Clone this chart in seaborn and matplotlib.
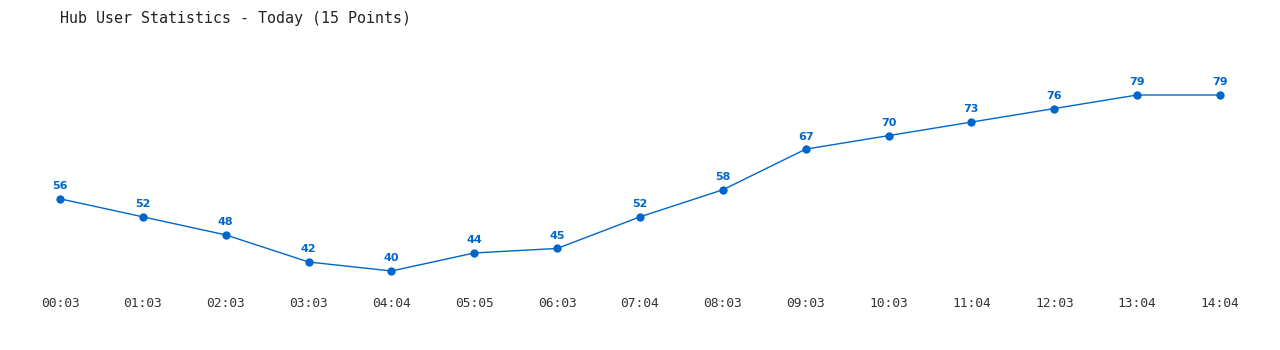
import matplotlib
matplotlib.use("Agg")
import matplotlib.pyplot as plt
import seaborn as sns
import pandas as pd

times = ["00:03", "01:03", "02:03", "03:03", "04:04", "05:05", "06:03", "07:04",
         "08:03", "09:03", "10:03", "11:04", "12:03", "13:04", "14:04"]
users = [56, 52, 48, 42, 40, 44, 45, 52, 58, 67, 70, 73, 76, 79, 79]

sns.set_theme(style="white")
plt.rcParams['font.family'] = ['DejaVu Sans Mono', 'DejaVu Sans']

df = pd.DataFrame({"idx": range(len(times)), "users": users})
color = "#0066cc"

fig = plt.figure(figsize=(12.8, 3.5), dpi=100)
ax = fig.add_axes([60/1280, (350-271)/350, 1160/1280, (271-95)/350])
sns.lineplot(data=df, x="idx", y="users", ax=ax, color=color, linewidth=1,
             marker="o", markersize=6, markeredgewidth=0, clip_on=False)
for i, v in enumerate(users):
    ax.annotate(str(v), (i, v), xytext=(0, 5.5), textcoords="offset points",
                ha="center", va="bottom", color=color, fontsize=8,
                fontweight="bold", family="DejaVu Sans")
ax.set_xlim(0, len(times) - 1)
ax.set_ylim(40, 79)
ax.set_xticks(range(len(times)))
ax.set_xticklabels(times)
ax.set_yticks([])
ax.tick_params(axis="x", length=0, pad=19, labelsize=9.3, labelcolor="#333333")
ax.set_xlabel("")
ax.set_ylabel("")
for s in ax.spines.values():
    s.set_visible(False)
ax.patch.set_alpha(0)
fig.text(60/1280, 1 - 18/350, "Hub User Statistics - Today (15 Points)",
         ha="left", va="center", fontsize=10.8, color="#222222")
fig.savefig("out.png", dpi=100, facecolor="white")
